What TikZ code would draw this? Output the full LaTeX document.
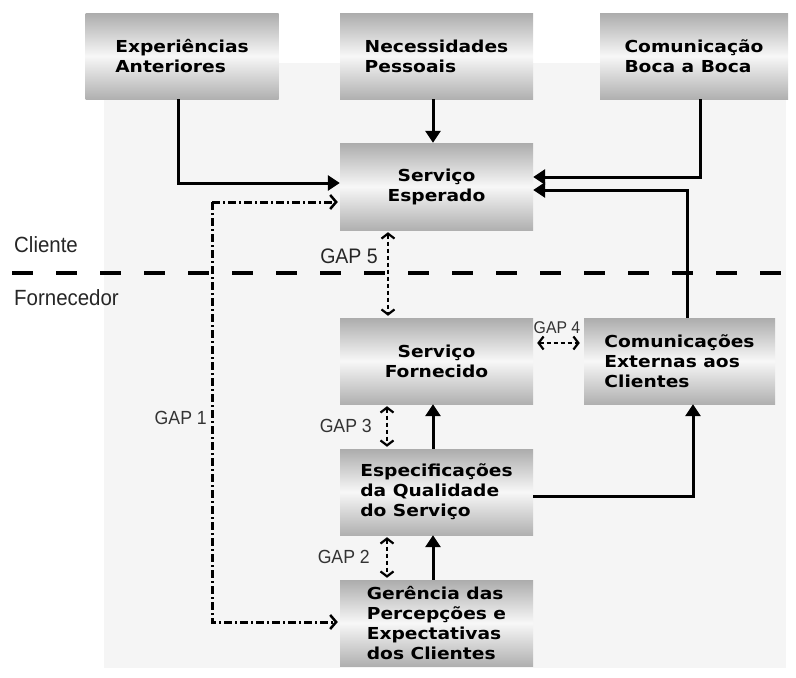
\documentclass[tikz,border=0pt]{standalone}
\usepackage{fontspec}
\usetikzlibrary{arrows.meta}
\newfontfamily\boxfont[FakeStretch=1.13]{DejaVu Sans}
\newfontfamily\labfont[FakeStretch=0.93]{Liberation Sans}
\begin{document}
\begin{tikzpicture}[x=1pt,y=-1pt,
  box/.style={minimum width=193pt,minimum height=86pt,inner sep=0pt,
    top color=gray!65,bottom color=gray!62,middle color=gray!6,
    font=\boxfont\bfseries\fontsize{16.5}{20}\selectfont,align=left},
  boxc/.style={box,align=center},
  arr/.style={line width=3pt,-{Triangle[width=15pt,length=12pt]}},
  gapln/.style={line width=3pt,dash pattern=on 8pt off 3pt on 2pt off 3pt,
    -{Straight Barb[length=6pt,width=14pt,line width=2.5pt]}},
  gapv/.style={line width=1.7pt,dash pattern=on 4pt off 3pt,
    {Straight Barb[length=5pt,width=13pt,line width=2.2pt]}-{Straight Barb[length=5pt,width=13pt,line width=2.2pt]}},
  lab/.style={font=\labfont\fontsize{22}{24}\selectfont,inner sep=0pt,text=black!85},
  gaplab/.style={font=\labfont\fontsize{19}{22}\selectfont,inner sep=0pt,text=black!80}
]
\useasboundingbox (0,0) rectangle (796,678);
\fill[black!4] (104,63) rectangle (786,668);

\node[box] (exp) at (182,56) {Experiências\\Anteriores};
\node[box] (nec) at (436.5,56) {Necessidades\\Pessoais};
\node[box,minimum width=188pt] (boca) at (694,56) {Comunicação\\Boca a Boca};
\node[boxc,minimum height=87pt] (esp) at (436.5,186.5) {Serviço\\Esperado};
\node[boxc] (forn) at (436.5,361) {Serviço\\Fornecido};
\node[box,minimum width=191pt] (com) at (679.5,361) {Comunicações\\Externas aos\\Clientes};
\node[box] (spec) at (436.5,492) {Especificações\\da Qualidade\\do Serviço};
\node[box] (ger) at (436.5,623) {Gerência das\\Percepções e\\Expectativas\\dos Clientes};

% divider
\coordinate (dl) at (12,273);
\coordinate (dr) at (796,273);
\draw[line width=3.2pt,dash pattern=on 21pt off 23pt] (dl) -- (dr);
\node[lab,anchor=west] (cli) at (14,245) {Cliente};
\node[lab,anchor=west] (forl) at (14,298) {Fornecedor};

% solid arrows
\draw[arr] ([xshift=-4pt]exp.south) |- ([yshift=3.5pt]esp.west);
\draw[arr] ([xshift=-3.5pt]nec.south) -- ([xshift=-3.5pt]esp.north);
\draw[arr] ([xshift=6pt]boca.south) |- ([yshift=9.5pt]esp.east);
\draw[arr] ([xshift=7.5pt]com.north) |- ([yshift=-3.5pt]esp.east);
\draw[arr] ([xshift=-3.5pt]spec.north) -- ([xshift=-3.5pt]forn.south);
\draw[arr] ([xshift=-3.5pt]ger.north) -- ([xshift=-3.5pt]spec.south);
\draw[arr] ([yshift=-4pt]spec.east) -| ([xshift=13.5pt]com.south);

% GAP 1
\coordinate (g1a) at (212,202);
\coordinate (g1b) at (212,622);
\draw[gapln,shorten >=2pt] (g1a) -- ([yshift=-15.5pt]esp.west);
\draw[gapln,shorten >=2pt] (g1a) -- (g1b) -- ([yshift=1pt]ger.west);
\node[gaplab,anchor=east] (gl1) at (207,418) {GAP 1};

% GAP 5
\draw[gapv] ([xshift=-48.5pt,yshift=-2pt]esp.south) -- ([xshift=-48.5pt,yshift=2pt]forn.north);
\node[lab,anchor=east,font=\labfont\fontsize{21}{24}\selectfont] (gl5) at (378,256) {GAP 5};
% GAP 3
\draw[gapv] ([xshift=-49.5pt,yshift=-2pt]forn.south) -- ([xshift=-49.5pt,yshift=2pt]spec.north);
\node[gaplab,anchor=east] (gl3) at (372,426) {GAP 3};
% GAP 2
\draw[gapv] ([xshift=-49.5pt,yshift=-2pt]spec.south) -- ([xshift=-49.5pt,yshift=2pt]ger.north);
\node[gaplab,anchor=east] (gl2) at (370,557) {GAP 2};
% GAP 4
\draw[gapv,line width=1.5pt] ([xshift=4pt,yshift=18pt]forn.east) -- ([xshift=-4pt,yshift=18pt]com.west);
\node[gaplab,font=\labfont\fontsize{17}{19}\selectfont] (gl4) at (557,328) {GAP 4};
\end{tikzpicture}
\end{document}
